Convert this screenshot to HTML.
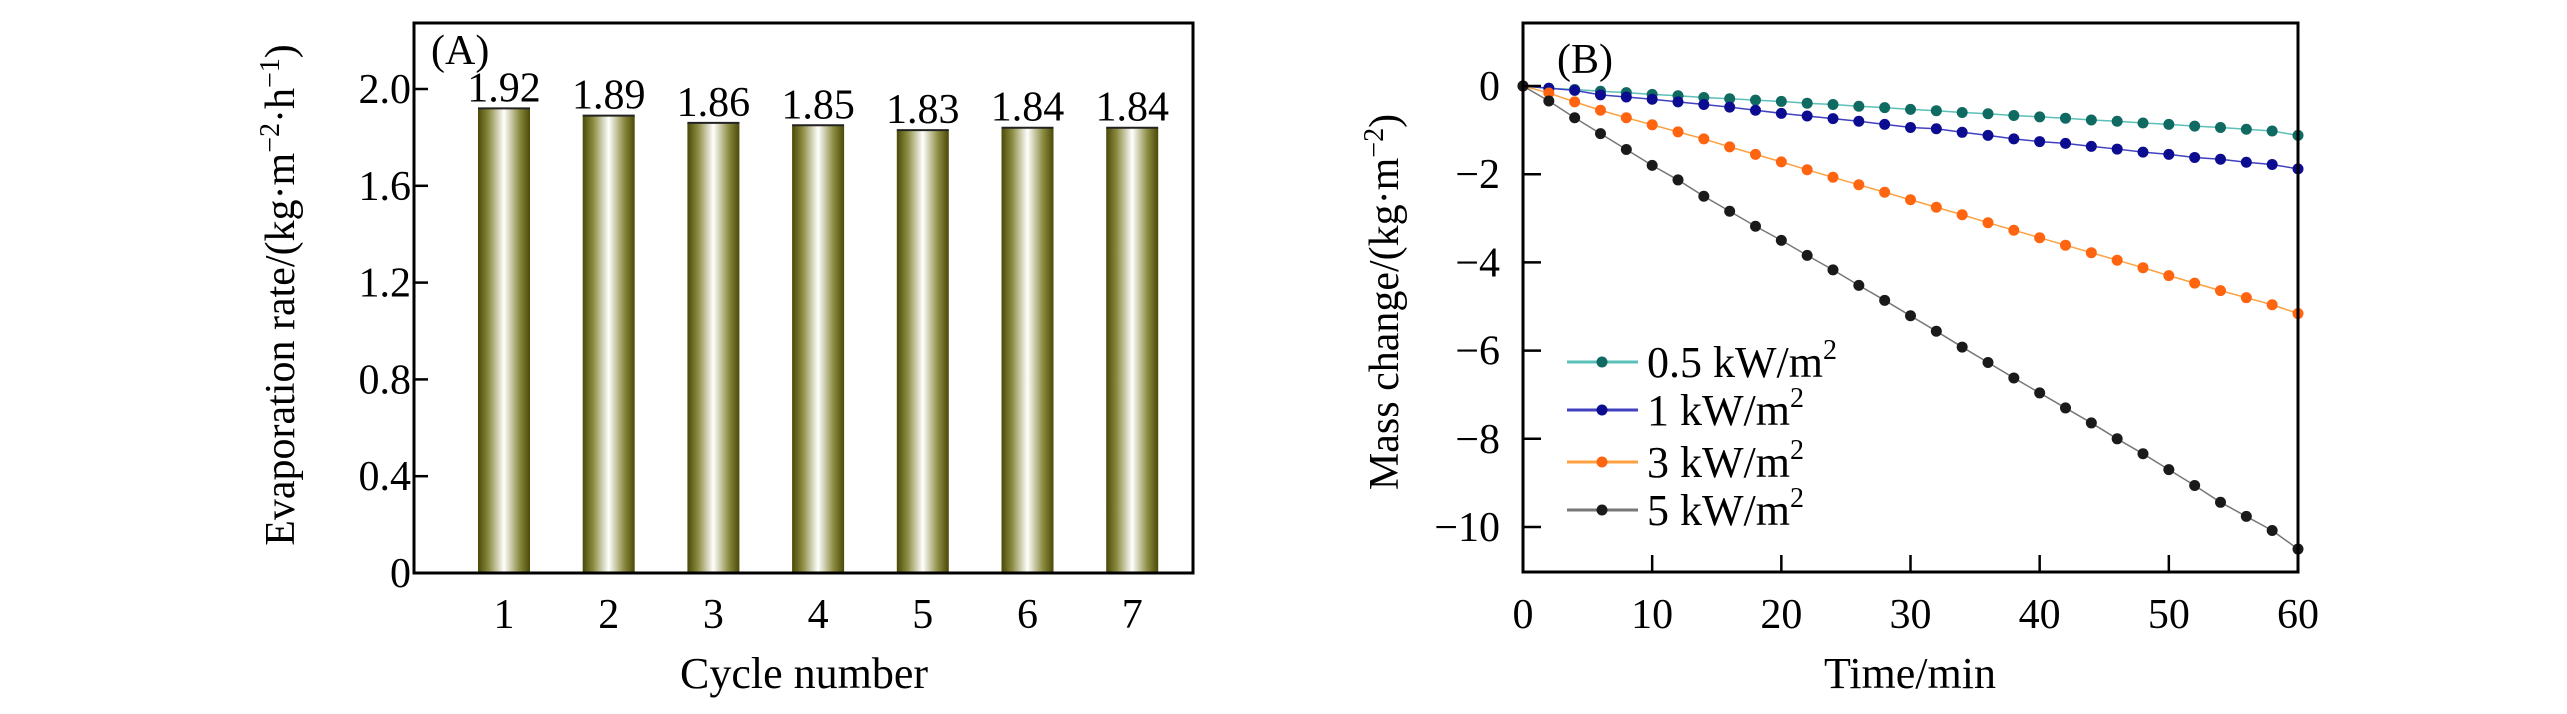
<!DOCTYPE html>
<html><head><meta charset="utf-8"><style>
body{margin:0;background:#fff}
svg text{font-family:"Liberation Serif","Times New Roman",serif}
</style></head><body>
<svg id="c" width="2567" height="709" viewBox="0 0 2567 709" xmlns="http://www.w3.org/2000/svg">
<defs>
<linearGradient id="bg" x1="0" x2="1" y1="0" y2="0">
<stop offset="0" stop-color="#4a4a08"/><stop offset="0.2" stop-color="#8a8a40"/><stop offset="0.5" stop-color="#ffffff"/><stop offset="0.8" stop-color="#8a8a40"/><stop offset="1" stop-color="#4a4a08"/>
</linearGradient>
</defs>
<g id="pa"></g>
<g id="pb"></g>
</svg>
<script>
const cycles=[1,2,3,4,5,6,7];
const rates=[1.92,1.89,1.86,1.85,1.83,1.84,1.84];
const rateLabels=["1.92","1.89","1.86","1.85","1.83","1.84","1.84"];
const aTicks=[0,0.4,0.8,1.2,1.6,2.0];
const aTickLabels=["0","0.4","0.8","1.2","1.6","2.0"];
const times=[0,2,4,6,8,10,12,14,16,18,20,22,24,26,28,30,32,34,36,38,40,42,44,46,48,50,52,54,56,58,60];
const s05=[0,-0.05,-0.08,-0.12,-0.15,-0.19,-0.22,-0.26,-0.29,-0.32,-0.35,-0.39,-0.42,-0.46,-0.49,-0.53,-0.56,-0.6,-0.63,-0.67,-0.7,-0.73,-0.77,-0.8,-0.84,-0.87,-0.91,-0.94,-0.98,-1.02,-1.12];
const s1=[0,-0.05,-0.1,-0.2,-0.25,-0.3,-0.36,-0.42,-0.48,-0.55,-0.62,-0.68,-0.74,-0.8,-0.87,-0.94,-0.97,-1.05,-1.12,-1.2,-1.26,-1.3,-1.37,-1.43,-1.5,-1.55,-1.62,-1.66,-1.73,-1.78,-1.88];
const s3=[0,-0.16,-0.36,-0.55,-0.72,-0.88,-1.04,-1.2,-1.38,-1.55,-1.72,-1.9,-2.07,-2.24,-2.41,-2.58,-2.75,-2.92,-3.1,-3.27,-3.44,-3.61,-3.78,-3.95,-4.12,-4.3,-4.47,-4.64,-4.8,-4.96,-5.16];
const s5=[0,-0.34,-0.72,-1.08,-1.44,-1.8,-2.13,-2.5,-2.84,-3.18,-3.5,-3.84,-4.17,-4.52,-4.86,-5.21,-5.56,-5.92,-6.27,-6.62,-6.96,-7.3,-7.64,-8.0,-8.34,-8.7,-9.06,-9.44,-9.76,-10.08,-10.5];
const seriesNames=["0.5 kW/m","1 kW/m","3 kW/m","5 kW/m"];
const bXTicks=[0,10,20,30,40,50,60];
const bYTicks=[0,-2,-4,-6,-8,-10];
const bYTickLabels=["0","\u22122","\u22124","\u22126","\u22128","\u221210"];

const NS="http://www.w3.org/2000/svg";
function mk(p,t,a,txt){const e=document.createElementNS(NS,t);for(const k in a)e.setAttribute(k,a[k]);if(txt!==undefined)e.textContent=txt;p.appendChild(e);return e;}
const pa=document.getElementById('pa'),pb=document.getElementById('pb');

// Panel A
const AL=414,AR=1193,AT=23,AB=573;
const ay=v=>AB-v/2.0*(AB-89);
const ax=c=>504+(c-1)*104.7;
cycles.forEach((c,i)=>{
 const y=ay(rates[i]);
 let r=mk(pa,'rect',{x:ax(c)-26,y:y,width:52,height:AB-y,fill:'url(#bg)'});
 
 
 mk(pa,'line',{x1:ax(c)-26,x2:ax(c)+26,y1:y,y2:y,stroke:'#222','stroke-width':2});
 let t=mk(pa,'text',{x:ax(c),y:y-7,'font-size':42,'text-anchor':'middle'},rateLabels[i]);
 
 
 let xt=mk(pa,'text',{x:ax(c),y:628,'font-size':42,'text-anchor':'middle'},String(c));
 
 
});
aTicks.forEach((v,i)=>{
 mk(pa,'line',{x1:AL,x2:AL+14,y1:ay(v),y2:ay(v),stroke:'#000','stroke-width':2.5});
 let t=mk(pa,'text',{x:AL-3,y:ay(v)+14,'font-size':42,'text-anchor':'end'},aTickLabels[i]);
 
 
});
let fa=mk(pa,'rect',{x:AL,y:AT,width:AR-AL,height:AB-AT,fill:'none',stroke:'#000','stroke-width':3});

let la=mk(pa,'text',{x:431,y:64,'font-size':42},'(A)');

let xa=mk(pa,'text',{x:804,y:688,'font-size':44,'text-anchor':'middle'},'Cycle number');

let ya=mk(pa,'text',{x:0,y:0,'font-size':42,'text-anchor':'middle',transform:'translate(294,295) rotate(-90)'});

ya.innerHTML='Evaporation rate/(kg·m<tspan font-size="28" dy="-15">−2</tspan><tspan dy="15">·h</tspan><tspan font-size="28" dy="-15">−1</tspan><tspan dy="15">)</tspan>';

// Panel B
const BL=1523,BR=2298,BT=23,BB=572;
const bx=t=>BL+t/60*(BR-BL);
const by=v=>86-v*44.1;
const series=[s05,s1,s3,s5];
const cols=["#0f6a62","#0c0c90","#ff6410","#1a1a1a"];
const lcols=["#5ac0b8","#4040c0","#ffa040","#777"];
series.forEach((s,k)=>{
 let pts=times.map((t,i)=>bx(t)+','+by(s[i])).join(' ');
 let pl=mk(pb,'polyline',{points:pts,fill:'none',stroke:lcols[k],'stroke-width':1.5});
 
 
 times.forEach((t,i)=>{
  let c=mk(pb,'circle',{cx:bx(t),cy:by(s[i]),r:5.5,fill:cols[k]});
  
  
 });
 const ly=[362,410,462,510][k];
 mk(pb,'line',{x1:1567,x2:1638,y1:ly,y2:ly,stroke:lcols[k],'stroke-width':3});
 let lm=mk(pb,'circle',{cx:1602,cy:ly,r:5.5,fill:cols[k]});
 
 
 let lt=mk(pb,'text',{x:1647,y:ly+15,'font-size':44});
 
 
 lt.innerHTML=seriesNames[k]+'<tspan font-size="28" dy="-18">2</tspan>';
});
bXTicks.forEach(v=>{
 mk(pb,'line',{x1:bx(v),x2:bx(v),y1:BB,y2:BB-17,stroke:'#000','stroke-width':2.5});
 let t=mk(pb,'text',{x:bx(v),y:628,'font-size':42,'text-anchor':'middle'},String(v));
 
 
});
bYTicks.forEach((v,i)=>{
 mk(pb,'line',{x1:BL,x2:BL+18,y1:by(v),y2:by(v),stroke:'#000','stroke-width':2.5});
 let t=mk(pb,'text',{x:1500,y:by(v)+14,'font-size':42,'text-anchor':'end'},bYTickLabels[i]);
 
 
});
let fb=mk(pb,'rect',{x:BL,y:BT,width:BR-BL,height:BB-BT,fill:'none',stroke:'#000','stroke-width':3});

let lb=mk(pb,'text',{x:1557,y:73,'font-size':42},'(B)');

let xb=mk(pb,'text',{x:1910,y:688,'font-size':44,'text-anchor':'middle'},'Time/min');

let yb=mk(pb,'text',{x:0,y:0,'font-size':42,'text-anchor':'middle',transform:'translate(1398,302) rotate(-90)'});

yb.innerHTML='Mass change/(kg·m<tspan font-size="28" dy="-15">−2</tspan><tspan dy="15">)</tspan>';
</script>
</body></html>
